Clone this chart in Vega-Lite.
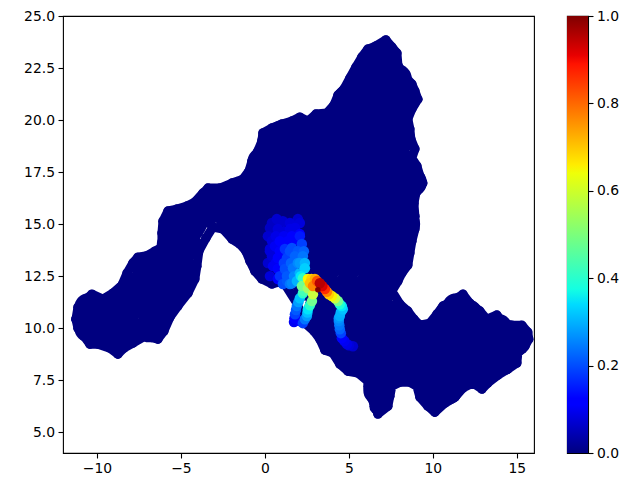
{"$schema":"https://vega.github.io/schema/vega-lite/v6.json","padding":{"left":23,"top":8,"right":0,"bottom":0},"background":"white","spacing":31,
"config":{"view":{"stroke":"black","strokeWidth":1.1},"axis":{"grid":false,"title":null,"domainColor":"black","domainWidth":1.1,"tickColor":"black","tickWidth":1.1,"tickSize":5,"labelFont":"DejaVu Sans","labelFontSize":13.9,"labelColor":"black","labelPadding":3.5,"labelFlush":false,"labelOverlap":false}},
"datasets":{
"rim":[{"x":-11.25,"y":10.43},{"x":-11.13,"y":11.01},{"x":-10.71,"y":11.35},{"x":-10.3,"y":11.63},{"x":-9.64,"y":11.39},{"x":-9.05,"y":11.68},{"x":-8.51,"y":12.07},{"x":-8.21,"y":12.64},{"x":-7.86,"y":13.13},{"x":-7.56,"y":13.41},{"x":-7.08,"y":13.46},{"x":-6.55,"y":13.7},{"x":-6.13,"y":13.89},{"x":-6.13,"y":14.57},{"x":-6.07,"y":15.14},{"x":-5.77,"y":15.63},{"x":-5.24,"y":15.72},{"x":-4.64,"y":15.87},{"x":-4.17,"y":16.06},{"x":-3.69,"y":16.49},{"x":-3.39,"y":16.73},{"x":-2.68,"y":16.73},{"x":-1.96,"y":16.97},{"x":-1.31,"y":17.16},{"x":-0.95,"y":17.55},{"x":-0.77,"y":18.03},{"x":-0.42,"y":18.51},{"x":-0.18,"y":18.99},{"x":-0.12,"y":19.38},{"x":0.42,"y":19.62},{"x":1.01,"y":19.81},{"x":1.61,"y":19.95},{"x":2.08,"y":20.14},{"x":2.56,"y":19.95},{"x":3.04,"y":20.29},{"x":3.69,"y":20.34},{"x":4.11,"y":20.72},{"x":4.35,"y":21.2},{"x":4.7,"y":21.49},{"x":5.06,"y":22.02},{"x":5.42,"y":22.55},{"x":5.77,"y":23.03},{"x":6.13,"y":23.41},{"x":6.61,"y":23.56},{"x":7.2,"y":23.85},{"x":7.56,"y":23.51},{"x":7.86,"y":23.22},{"x":7.92,"y":22.64},{"x":8.27,"y":22.16},{"x":8.75,"y":21.73},{"x":8.93,"y":21.39},{"x":9.11,"y":21.0},{"x":8.75,"y":20.53},{"x":8.51,"y":20.05},{"x":8.63,"y":19.57},{"x":8.69,"y":19.09},{"x":8.93,"y":18.61},{"x":8.75,"y":18.17},{"x":9.05,"y":17.79},{"x":9.23,"y":17.31},{"x":9.4,"y":16.97},{"x":8.99,"y":16.49},{"x":8.87,"y":16.0},{"x":8.93,"y":15.38},{"x":8.93,"y":14.76},{"x":8.75,"y":14.18},{"x":8.63,"y":13.61},{"x":8.51,"y":13.03},{"x":8.15,"y":12.64},{"x":7.92,"y":12.26},{"x":7.56,"y":11.78},{"x":8.04,"y":11.15},{"x":8.51,"y":10.82},{"x":8.87,"y":10.43},{"x":9.23,"y":10.14},{"x":9.82,"y":10.24},{"x":10.24,"y":10.67},{"x":10.6,"y":11.06},{"x":11.13,"y":11.3},{"x":11.79,"y":11.63},{"x":12.2,"y":11.2},{"x":12.8,"y":10.82},{"x":13.21,"y":10.43},{"x":13.81,"y":10.63},{"x":14.17,"y":10.24},{"x":14.7,"y":10.14},{"x":15.3,"y":10.14},{"x":15.65,"y":9.81},{"x":15.71,"y":9.47},{"x":15.48,"y":9.13},{"x":15.06,"y":8.8},{"x":15.0,"y":8.32},{"x":14.46,"y":8.03},{"x":13.87,"y":7.74},{"x":13.27,"y":7.36},{"x":12.92,"y":7.07},{"x":12.38,"y":7.36},{"x":11.79,"y":7.12},{"x":11.31,"y":6.68},{"x":10.71,"y":6.39},{"x":10.12,"y":5.96},{"x":9.7,"y":6.25},{"x":9.23,"y":6.68},{"x":9.05,"y":7.21},{"x":8.63,"y":7.4},{"x":8.04,"y":7.4},{"x":7.56,"y":7.21},{"x":7.44,"y":6.73},{"x":7.32,"y":6.25},{"x":6.73,"y":5.87},{"x":6.49,"y":6.39},{"x":6.19,"y":6.88},{"x":6.13,"y":7.45},{"x":5.54,"y":7.84},{"x":4.94,"y":7.93},{"x":4.46,"y":8.27},{"x":4.05,"y":8.8},{"x":3.57,"y":8.94},{"x":3.27,"y":9.47},{"x":2.92,"y":9.86},{"x":2.38,"y":10.24},{"x":1.9,"y":11.2},{"x":1.07,"y":12.26},{"x":0.42,"y":12.12},{"x":-0.18,"y":12.36},{"x":-0.6,"y":12.74},{"x":-0.89,"y":13.22},{"x":-1.13,"y":13.7},{"x":-1.49,"y":14.04},{"x":-1.96,"y":14.28},{"x":-2.5,"y":14.76},{"x":-3.1,"y":14.86},{"x":-3.51,"y":14.33},{"x":-3.93,"y":13.7},{"x":-4.05,"y":12.98},{"x":-4.17,"y":12.36},{"x":-4.58,"y":11.68},{"x":-5.18,"y":11.06},{"x":-5.65,"y":10.53},{"x":-6.01,"y":9.86},{"x":-6.37,"y":9.47},{"x":-7.14,"y":9.62},{"x":-7.86,"y":9.28},{"x":-8.39,"y":9.04},{"x":-8.75,"y":8.75},{"x":-9.23,"y":9.04},{"x":-9.94,"y":9.23},{"x":-10.42,"y":9.23},{"x":-10.77,"y":9.62},{"x":-11.13,"y":10.0},{"x":-11.25,"y":10.43}],
"core":[{"x":6.5,"y":23},{"x":7.1,"y":23},{"x":5.9,"y":22},{"x":7,"y":22},{"x":7.9,"y":22},{"x":4.9,"y":21},{"x":6,"y":21},{"x":7.2,"y":21},{"x":8.4,"y":21},{"x":4.7,"y":20},{"x":5.9,"y":20},{"x":7,"y":20},{"x":7.9,"y":20},{"x":1,"y":19.3},{"x":2.2,"y":19.5},{"x":3.4,"y":19.6},{"x":0.4,"y":19},{"x":1.6,"y":19},{"x":2.8,"y":19},{"x":4,"y":19},{"x":5.2,"y":19},{"x":6.4,"y":19},{"x":7.6,"y":19},{"x":8,"y":19},{"x":-0.2,"y":18},{"x":1,"y":18},{"x":2.2,"y":18},{"x":3.4,"y":18},{"x":4.6,"y":18},{"x":5.8,"y":18},{"x":7,"y":18},{"x":8.1,"y":18},{"x":-0.2,"y":17},{"x":1,"y":17},{"x":2.2,"y":17},{"x":3.4,"y":17},{"x":4.6,"y":17},{"x":5.8,"y":17},{"x":7,"y":17},{"x":8.2,"y":17},{"x":8.8,"y":17},{"x":-3.2,"y":16},{"x":-2,"y":16},{"x":-0.8,"y":16},{"x":0.4,"y":16},{"x":1.6,"y":16},{"x":2.8,"y":16},{"x":4,"y":16},{"x":5.2,"y":16},{"x":6.4,"y":16},{"x":7.6,"y":16},{"x":8.3,"y":16},{"x":-5.4,"y":15},{"x":-4.3,"y":15},{"x":-2.6,"y":15.7},{"x":-1.5,"y":15},{"x":-0.4,"y":15},{"x":0.8,"y":15},{"x":2,"y":15},{"x":3.2,"y":15},{"x":4.4,"y":15},{"x":5.6,"y":15},{"x":6.8,"y":15},{"x":8,"y":15},{"x":8.4,"y":15},{"x":-5.6,"y":14},{"x":-4.6,"y":14},{"x":-0.2,"y":14},{"x":1,"y":14},{"x":2.2,"y":14},{"x":3.4,"y":14},{"x":4.6,"y":14},{"x":5.8,"y":14},{"x":7,"y":14},{"x":7.9,"y":14},{"x":-7.1,"y":13},{"x":-6,"y":13},{"x":-5,"y":13},{"x":0.2,"y":13},{"x":1.4,"y":13},{"x":2.6,"y":13},{"x":3.8,"y":13},{"x":5,"y":13},{"x":6.2,"y":13},{"x":7.4,"y":13},{"x":7.7,"y":13},{"x":-7.7,"y":12},{"x":-6.5,"y":12},{"x":-5.4,"y":12},{"x":2.5,"y":12},{"x":3.7,"y":12},{"x":4.9,"y":12},{"x":6.1,"y":12},{"x":6.7,"y":12},{"x":-10.5,"y":11},{"x":-9.3,"y":11},{"x":-8.1,"y":11},{"x":-7,"y":11},{"x":-6.1,"y":11},{"x":3.2,"y":11},{"x":4.4,"y":11},{"x":5.6,"y":11},{"x":6.8,"y":11},{"x":7.3,"y":10.7},{"x":11,"y":10.7},{"x":12.1,"y":10.7},{"x":11.4,"y":11},{"x":-10.5,"y":10},{"x":-9.3,"y":10},{"x":-8.1,"y":10},{"x":-6.9,"y":10},{"x":3.9,"y":10},{"x":5.1,"y":10},{"x":6.3,"y":10},{"x":7.5,"y":10},{"x":8.5,"y":10},{"x":9.4,"y":9.7},{"x":10.4,"y":10},{"x":11.6,"y":10},{"x":12.7,"y":10},{"x":13.9,"y":10},{"x":15,"y":9.6},{"x":4.8,"y":9},{"x":6,"y":9},{"x":7.2,"y":9},{"x":8.4,"y":9},{"x":9.6,"y":9},{"x":10.8,"y":9},{"x":12,"y":9},{"x":13.2,"y":9},{"x":14.4,"y":9},{"x":6.3,"y":8},{"x":7.5,"y":8},{"x":8.7,"y":8},{"x":9.9,"y":8},{"x":11.1,"y":8},{"x":12.3,"y":8},{"x":13.3,"y":8},{"x":6.7,"y":7},{"x":9.9,"y":7},{"x":10.9,"y":7}],
"mid":[{"x":-3.27,"y":16.2},{"x":-2.56,"y":16.3},{"x":-1.85,"y":16.5},{"x":-1.19,"y":16.7},{"x":-0.77,"y":17.16},{"x":-0.42,"y":17.8},{"x":-5.06,"y":15.24},{"x":-4.46,"y":15.38},{"x":-3.87,"y":15.63},{"x":-5.65,"y":14.18},{"x":-5.65,"y":13.46},{"x":-4.17,"y":14.66},{"x":-4.35,"y":13.7},{"x":-4.58,"y":12.98},{"x":-6.85,"y":13.13},{"x":-7.14,"y":12.74},{"x":-5.06,"y":12.02},{"x":-5.65,"y":11.3},{"x":-7.44,"y":12.5},{"x":-7.92,"y":12.02},{"x":-8.33,"y":11.54},{"x":-8.93,"y":11.2},{"x":-9.82,"y":11.06},{"x":-10.54,"y":10.72},{"x":-10.71,"y":10.1},{"x":-10.42,"y":9.62},{"x":-9.52,"y":9.47},{"x":-8.75,"y":9.28},{"x":-8.04,"y":9.62},{"x":-6.96,"y":9.95},{"x":-6.25,"y":10.1},{"x":-5.95,"y":10.58},{"x":-2.38,"y":15.05},{"x":-1.61,"y":14.42},{"x":-0.89,"y":13.8},{"x":-0.42,"y":13.13},{"x":0.3,"y":12.64},{"x":0.18,"y":19.23},{"x":0.89,"y":19.47},{"x":2.08,"y":19.71},{"x":3.27,"y":19.86},{"x":4.17,"y":20.19},{"x":4.76,"y":20.91},{"x":5.06,"y":21.49},{"x":5.54,"y":22.26},{"x":6.13,"y":22.84},{"x":7.14,"y":23.32},{"x":7.44,"y":22.36},{"x":8.15,"y":21.63},{"x":8.51,"y":20.91},{"x":8.04,"y":19.95},{"x":8.15,"y":18.75},{"x":8.51,"y":17.55},{"x":8.75,"y":16.59},{"x":8.33,"y":15.38},{"x":8.33,"y":14.18},{"x":8.04,"y":13.13},{"x":7.44,"y":12.26},{"x":7.14,"y":11.54},{"x":8.51,"y":10.43},{"x":8.93,"y":9.95},{"x":9.82,"y":9.86},{"x":10.42,"y":10.34},{"x":11.01,"y":10.82},{"x":11.73,"y":11.15},{"x":12.5,"y":10.58},{"x":13.39,"y":9.95},{"x":14.29,"y":9.86},{"x":14.88,"y":9.62},{"x":15.18,"y":9.13},{"x":14.46,"y":8.65},{"x":13.69,"y":8.17},{"x":12.92,"y":7.55},{"x":12.2,"y":7.69},{"x":11.49,"y":7.36},{"x":10.71,"y":6.88},{"x":9.94,"y":6.49},{"x":9.52,"y":6.97},{"x":9.23,"y":7.69},{"x":8.33,"y":7.84},{"x":7.44,"y":7.69},{"x":6.96,"y":6.73},{"x":6.73,"y":6.25},{"x":6.37,"y":7.21},{"x":5.77,"y":8.17},{"x":4.76,"y":8.51},{"x":4.17,"y":9.13},{"x":3.75,"y":9.62},{"x":3.27,"y":10.1},{"x":2.68,"y":10.58},{"x":3.27,"y":10.58},{"x":-3.39,"y":15.24},{"x":-1.07,"y":14.28},{"x":-4.58,"y":12.26},{"x":5.36,"y":8.27},{"x":14.29,"y":8.17},{"x":8.21,"y":10.72},{"x":-9.82,"y":10.43},{"x":-8.75,"y":10.43},{"x":0.4,"y":17.5},{"x":1.6,"y":17.5},{"x":2.8,"y":17.5},{"x":4,"y":17.5},{"x":5.2,"y":17.5},{"x":6.4,"y":17.5},{"x":7.6,"y":17.5}],
"hot":[{"x":0.3,"y":14.81,"v":0.06},{"x":0.71,"y":15.24,"v":0.07},{"x":1.07,"y":15.14,"v":0.07},{"x":1.96,"y":15.24,"v":0.07},{"x":5.24,"y":9.13,"v":0.07},{"x":0.77,"y":14.76,"v":0.08},{"x":1.13,"y":14.66,"v":0.08},{"x":0.42,"y":14.18,"v":0.08},{"x":0.3,"y":13.8,"v":0.08},{"x":0.42,"y":13.46,"v":0.08},{"x":1.79,"y":14.81,"v":0.09},{"x":1.49,"y":14.76,"v":0.09},{"x":4.88,"y":9.23,"v":0.09},{"x":0.48,"y":12.98,"v":0.1},{"x":0.6,"y":13.94,"v":0.1},{"x":1.73,"y":10.29,"v":0.1},{"x":0.89,"y":14.18,"v":0.12},{"x":1.37,"y":14.18,"v":0.12},{"x":1.85,"y":14.23,"v":0.12},{"x":2.08,"y":14.52,"v":0.12},{"x":0.77,"y":13.37,"v":0.12},{"x":0.77,"y":12.84,"v":0.12},{"x":0.77,"y":12.36,"v":0.12},{"x":2.08,"y":10.34,"v":0.12},{"x":4.58,"y":9.52,"v":0.12},{"x":1.19,"y":13.8,"v":0.14},{"x":1.31,"y":13.37,"v":0.15},{"x":2.2,"y":14.04,"v":0.15},{"x":2.26,"y":10.24,"v":0.15},{"x":1.79,"y":10.67,"v":0.15},{"x":1.19,"y":12.84,"v":0.16},{"x":1.61,"y":13.85,"v":0.16},{"x":1.31,"y":12.26,"v":0.17},{"x":1.79,"y":13.46,"v":0.18},{"x":4.46,"y":9.95,"v":0.18},{"x":1.9,"y":11.06,"v":0.2},{"x":1.67,"y":12.88,"v":0.2},{"x":4.4,"y":10.34,"v":0.22},{"x":2.26,"y":13.46,"v":0.2},{"x":1.61,"y":12.16,"v":0.22},{"x":1.96,"y":13.13,"v":0.22},{"x":2.5,"y":10.58,"v":0.25},{"x":4.46,"y":10.58,"v":0.27},{"x":2.08,"y":11.44,"v":0.3},{"x":4.64,"y":10.91,"v":0.3},{"x":2.08,"y":12.64,"v":0.28},{"x":1.9,"y":12.26,"v":0.28},{"x":2.38,"y":12.88,"v":0.32},{"x":2.56,"y":10.91,"v":0.35},{"x":4.46,"y":11.15,"v":0.4},{"x":2.26,"y":12.4,"v":0.42},{"x":2.32,"y":11.78,"v":0.45},{"x":2.2,"y":12.02,"v":0.5},{"x":2.8,"y":11.3,"v":0.5},{"x":2.56,"y":11.92,"v":0.55},{"x":2.86,"y":11.63,"v":0.6},{"x":4.17,"y":11.44,"v":0.6},{"x":2.56,"y":12.36,"v":0.65},{"x":3.81,"y":11.63,"v":0.7},{"x":2.98,"y":12.36,"v":0.75},{"x":2.86,"y":12.02,"v":0.8},{"x":3.57,"y":11.88,"v":0.88},{"x":3.27,"y":12.16,"v":0.95},{"x":0.42,"y":15.05,"v":0.06},{"x":1.49,"y":15.05,"v":0.08},{"x":2.08,"y":15.05,"v":0.08},{"x":0.18,"y":14.42,"v":0.07},{"x":0.65,"y":14.42,"v":0.09},{"x":1.13,"y":14.42,"v":0.1},{"x":1.61,"y":14.42,"v":0.12},{"x":2.08,"y":14.42,"v":0.13},{"x":0.3,"y":13.7,"v":0.08},{"x":0.89,"y":13.7,"v":0.12},{"x":1.49,"y":13.7,"v":0.16},{"x":1.96,"y":13.7,"v":0.17},{"x":2.32,"y":13.7,"v":0.18},{"x":0.18,"y":13.13,"v":0.07},{"x":0.65,"y":13.13,"v":0.1},{"x":1.13,"y":13.13,"v":0.15},{"x":1.55,"y":13.13,"v":0.18},{"x":2.08,"y":13.13,"v":0.24},{"x":2.38,"y":13.13,"v":0.28},{"x":0.3,"y":12.5,"v":0.08},{"x":0.89,"y":12.5,"v":0.14},{"x":1.31,"y":12.5,"v":0.17},{"x":1.73,"y":12.5,"v":0.22},{"x":2.14,"y":12.5,"v":0.35},{"x":1.07,"y":12.12,"v":0.16},{"x":1.49,"y":12.12,"v":0.2},{"x":1.99,"y":11.25,"v":0.25},{"x":1.85,"y":10.87,"v":0.17},{"x":1.76,"y":10.48,"v":0.12},{"x":2.68,"y":11.1,"v":0.42},{"x":2.53,"y":10.75,"v":0.3},{"x":2.38,"y":10.43,"v":0.2},{"x":2.26,"y":11.68,"v":0.42},{"x":5.0,"y":9.18,"v":0.08},{"x":4.73,"y":9.38,"v":0.1},{"x":4.52,"y":9.76,"v":0.15},{"x":4.43,"y":10.14,"v":0.2},{"x":4.4,"y":10.48,"v":0.24},{"x":4.52,"y":10.76,"v":0.28},{"x":4.58,"y":11.06,"v":0.35},{"x":4.35,"y":11.3,"v":0.5},{"x":3.99,"y":11.54,"v":0.65},{"x":3.69,"y":11.75,"v":0.8},{"x":3.42,"y":12.02,"v":0.92},{"x":3.1,"y":12.26,"v":0.85},{"x":2.77,"y":12.36,"v":0.7},{"x":2.68,"y":12.16,"v":0.72}],
"peak":[{"x":3.15,"y":11.85,"v":1.0}],
"bar":[{"v":0,"v2":1}]
},
"hconcat":[
{"width":471,"height":437,
"encoding":{
"x":{"field":"x","type":"quantitative","scale":{"domain":[-12.02,16.02],"nice":false,"zero":false},"axis":{"values":[-10,-5,0,5,10,15],"format":"d","domain":false}},
"y":{"field":"y","type":"quantitative","scale":{"domain":[4,25],"nice":false,"zero":false},"axis":{"values":[5,7.5,10,12.5,15,17.5,20,22.5,25],"format":".1f","domain":false}}},
"layer":[
{"data":{"name":"core"},"mark":{"type":"point","shape":"circle","filled":true,"opacity":1,"size":800,"color":"#000080"}},
{"data":{"name":"mid"},"mark":{"type":"point","shape":"circle","filled":true,"opacity":1,"size":300,"color":"#000080"}},
{"data":{"name":"rim"},"mark":{"type":"line","color":"#000080","strokeWidth":9,"strokeJoin":"round","strokeCap":"round"},"encoding":{"order":{"value":null}}},
{"data":{"name":"rim"},"mark":{"type":"point","shape":"circle","filled":true,"opacity":1,"size":90,"color":"#000080"}},
{"data":{"name":"hot"},"mark":{"type":"point","shape":"circle","filled":true,"opacity":1,"size":110},"encoding":{"order":{"field":"v","type":"quantitative"},"color":{"field":"v","type":"quantitative","legend":null,"scale":{"domain":[0,0.11,0.125,0.34,0.375,0.64,0.66,0.89,0.91,1],"range":["#000080","#0000ff","#0000ff","#00dbff","#14ffe2","#efff08","#ffec00","#ff1300","#e80000","#800000"]}}}},
{"data":{"name":"peak"},"mark":{"type":"point","shape":"circle","filled":true,"opacity":1,"size":30,"color":"#800000"}}
]},
{"width":21,"height":437,"data":{"name":"bar"},
"mark":{"type":"rect","color":{"x1":0,"y1":1,"x2":0,"y2":0,"gradient":"linear","stops":[{"offset":0,"color":"#000080"},{"offset":0.11,"color":"#0000ff"},{"offset":0.125,"color":"#0000ff"},{"offset":0.34,"color":"#00dbff"},{"offset":0.375,"color":"#14ffe2"},{"offset":0.64,"color":"#efff08"},{"offset":0.66,"color":"#ffec00"},{"offset":0.89,"color":"#ff1300"},{"offset":0.91,"color":"#e80000"},{"offset":1,"color":"#800000"}]}},
"encoding":{
"y":{"field":"v","type":"quantitative","scale":{"domain":[0,1],"nice":false},"axis":{"orient":"right","values":[0,0.2,0.4,0.6,0.8,1],"format":".1f"}},
"y2":{"field":"v2"}}}
]}
